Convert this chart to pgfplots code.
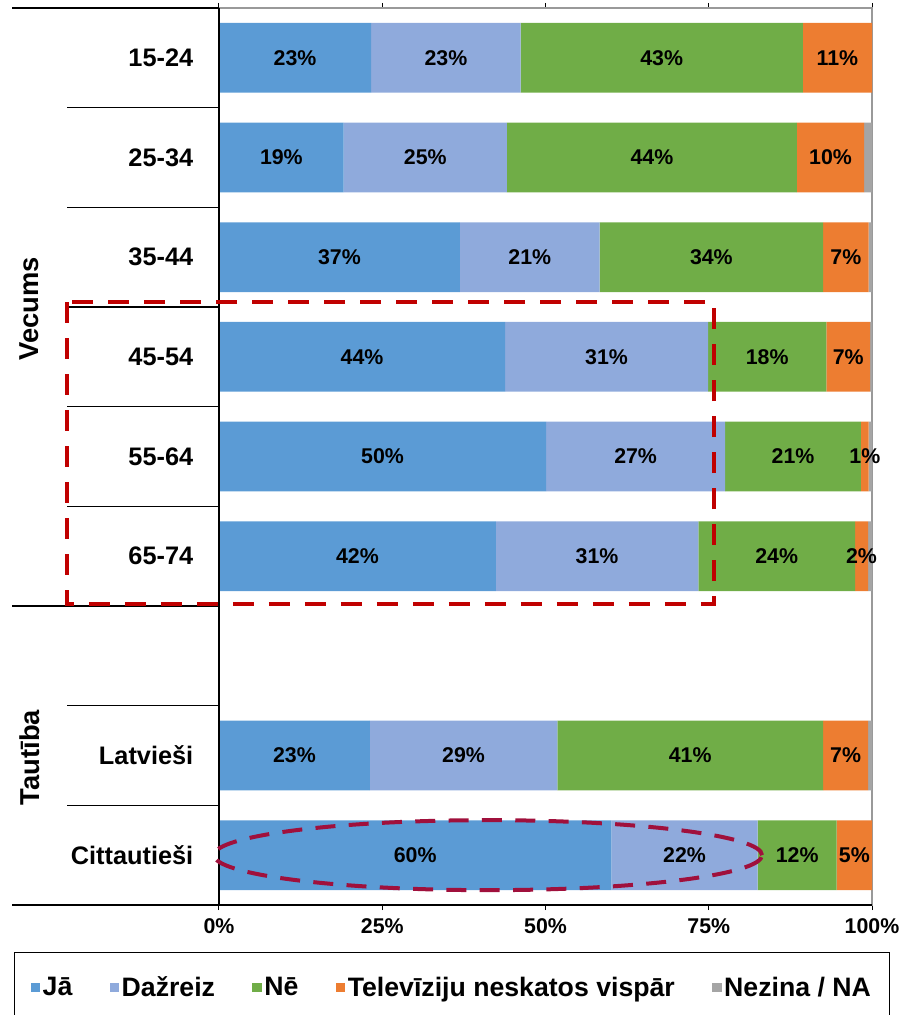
\documentclass[border=0pt]{standalone}
\usepackage{pgfplots}
\pgfplotsset{compat=1.18}
\usepackage{pgfplotstable}
\usepackage{fontspec}
\setmainfont{Liberation Sans}

\definecolor{cja}{HTML}{5B9BD5}
\definecolor{cdaz}{HTML}{8FAADC}
\definecolor{cne}{HTML}{70AD47}
\definecolor{ctv}{HTML}{ED7D31}
\definecolor{cna}{HTML}{A5A5A5}
\definecolor{cbox}{HTML}{C00000}
\definecolor{cell}{HTML}{A0103C}

% y: 9 = top row (15-24) ... 1 = Cittautieši; row 3 is the empty gap
\pgfplotstableread{
y ja daz ne tv na
9 23.3 22.9 43.2 10.6 0.0
8 19.1 25.0 44.4 10.3 1.2
7 36.9 21.4 34.2 7.0 0.5
6 43.8 31.1 18.1 6.7 0.3
5 50.1 27.4 20.8 1.2 0.5
4 42.4 31.0 24.0 2.0 0.6
2 23.1 28.7 40.7 6.9 0.6
1 60.1 22.4 12.1 5.4 0.0
}\data

\begin{document}
\begin{tikzpicture}
\useasboundingbox (0,0) rectangle (676.5pt,761.25pt);
\begin{axis}[
  at={(164.25pt,82.5pt)}, anchor=south west,
  scale only axis, width=489.75pt, height=672.75pt,
  xbar stacked, bar width=0.7,
  xmin=0, xmax=100, ymin=0.5, ymax=9.5,
  clip=false,
  axis line style={draw=gray!80, line width=0.8pt},
  /pgf/number format/assume math mode=true,
  xtick={0,25,50,75,100},
  xticklabel={\pgfmathprintnumber{\tick}\%},
  xticklabel style={font=\bfseries\fontsize{16}{18}\selectfont, yshift=-3pt},
  tick align=outside, major tick length=3.75pt,
  xtick style={draw=black, line width=0.75pt},
  ytick={1,2,4,5,6,7,8,9},
  yticklabels={Cittautieši,Latvieši,65-74,55-64,45-54,35-44,25-34,15-24},
  ytick style={draw=none},
  yticklabel style={font=\bfseries\fontsize{19}{22}\selectfont, xshift=-12pt},
  lbl/.style={point meta=explicit,
    nodes near coords={\pgfmathprintnumber[fixed,precision=0]{\pgfplotspointmeta}\%},
    every node near coord/.append style={font=\bfseries\fontsize{16}{18}\selectfont, text=black}},
  legend columns=5,
  legend image code/.code={\fill[#1] (0pt,-3.5pt) rectangle (7pt,3.5pt);},
  legend style={at={(0.357,-0.0524)}, anchor=north, draw=black, line width=1pt,
    font=\bfseries\fontsize{20}{23}\selectfont, inner ysep=16pt, inner xsep=12pt,
    /tikz/every even column/.append style={column sep=26pt}},
]
\addplot[fill=cja, draw=none, lbl] table[x=ja, y=y, meta=ja] {\data};
\addplot[fill=cdaz, draw=none, lbl] table[x=daz, y=y, meta=daz] {\data};
\addplot[fill=cne, draw=none, lbl] table[x=ne, y=y, meta=ne] {\data};
\addplot[fill=ctv, draw=none, lbl] table[x=tv, y=y, meta=tv] {\data};
\addplot[fill=cna, draw=none] table[x=na, y=y] {\data};
\legend{Jā, Dažreiz, Nē, Televīziju neskatos vispār, Nezina / NA}

% category separators
\draw[black, line width=1pt] (axis cs:0,9.5) -- (axis cs:-31.7,9.5);
\draw[black, line width=1pt] (axis cs:0,3.5) -- (axis cs:-31.7,3.5);
\draw[black, line width=1pt] (axis cs:0,0.5) -- (axis cs:-31.7,0.5);
\draw[black, line width=1pt] (axis cs:0,8.5) -- (axis cs:-23.3,8.5);
\draw[black, line width=1pt] (axis cs:0,7.5) -- (axis cs:-23.3,7.5);
\draw[black, line width=1pt] (axis cs:0,6.5) -- (axis cs:-23.3,6.5);
\draw[black, line width=1pt] (axis cs:0,5.5) -- (axis cs:-23.3,5.5);
\draw[black, line width=1pt] (axis cs:0,4.5) -- (axis cs:-23.3,4.5);
\draw[black, line width=1pt] (axis cs:0,2.5) -- (axis cs:-23.3,2.5);
\draw[black, line width=1pt] (axis cs:0,1.5) -- (axis cs:-23.3,1.5);
\node[rotate=90, font=\bfseries\fontsize{20.5}{23}\selectfont] at (axis cs:-29,6.48) {Vecums};
\node[rotate=90, font=\bfseries\fontsize{20.5}{23}\selectfont] at (axis cs:-29,1.98) {Tautība};
% anchor points for the highlights drawn on top after the axis
\coordinate (tl) at (rel axis cs:0,1);
\coordinate (bl) at (rel axis cs:0,0);
\coordinate (br) at (rel axis cs:1,0);
\coordinate (r1) at (axis cs:-23.3,6.55);
\coordinate (r2) at (axis cs:75.8,3.52);
\coordinate (ec) at (axis cs:41.2,1);
\end{axis}
\draw[black, line width=1pt] (tl) -- (bl) -- (br);
\draw[cbox, line width=3.5pt, dash pattern=on 16pt off 11pt] (r1) rectangle (r2);
\draw[cell, line width=3pt, dash pattern=on 15pt off 10pt] (ec) ellipse [x radius=205.5pt, y radius=26.25pt];
\end{tikzpicture}
\end{document}
